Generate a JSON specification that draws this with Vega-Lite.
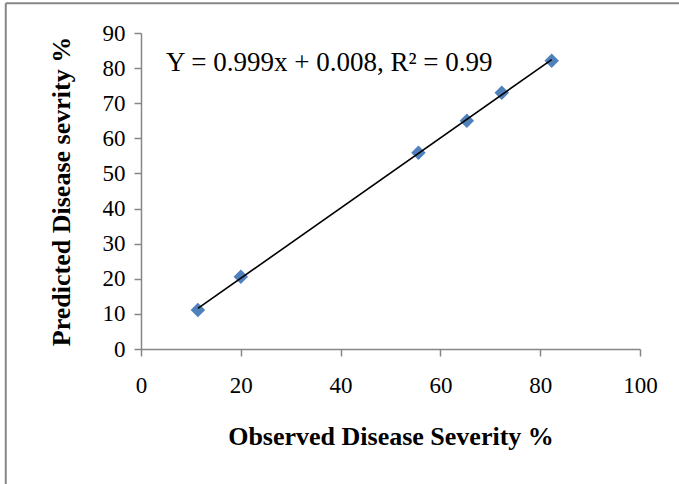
{
  "$schema": "https://vega.github.io/schema/vega-lite/v6.json",
  "width": 499,
  "height": 316,
  "autosize": {"type": "none"},
  "padding": {"left": 141, "top": 33, "right": 39, "bottom": 135},
  "background": "white",
  "config": {
    "view": {"stroke": null},
    "font": "Liberation Serif",
    "axis": {
      "grid": false,
      "domainColor": "#868686",
      "domainWidth": 1.5,
      "tickColor": "#868686",
      "tickWidth": 1.5,
      "tickSize": 7,
      "labelFont": "Liberation Serif",
      "labelFontSize": 23,
      "labelColor": "black",
      "labelFlush": false,
      "titleFont": "Liberation Serif",
      "titleFontSize": 26,
      "titleFontWeight": "bold",
      "titleColor": "black"
    }
  },
  "layer": [
    {
      "data": {
        "values": [
          {"observed": 11.4, "predicted": 11.1},
          {"observed": 20.0, "predicted": 20.6},
          {"observed": 55.6, "predicted": 55.9},
          {"observed": 65.3, "predicted": 65.0},
          {"observed": 72.3, "predicted": 73.0},
          {"observed": 82.3, "predicted": 82.1}
        ]
      },
      "layer": [
        {
          "mark": {"type": "point", "shape": "diamond", "filled": true, "color": "#4F81BD", "opacity": 1, "size": 210},
          "encoding": {
            "x": {
              "field": "observed",
              "type": "quantitative",
              "scale": {"domain": [0, 100], "nice": false, "zero": true},
              "axis": {"values": [0, 20, 40, 60, 80, 100], "tickCount": 6, "labelPadding": 18, "titlePadding": 26, "title": "Observed Disease Severity %"}
            },
            "y": {
              "field": "predicted",
              "type": "quantitative",
              "scale": {"domain": [0, 90], "nice": false},
              "axis": {"values": [0, 10, 20, 30, 40, 50, 60, 70, 80, 90], "tickCount": 10, "labelOverlap": false, "labelPadding": 9, "titlePadding": 28, "title": "Predicted Disease sevrity %"}
            }
          }
        },
        {
          "transform": [{"regression": "predicted", "on": "observed", "method": "linear"}],
          "mark": {"type": "line", "color": "black", "strokeWidth": 1.6},
          "encoding": {
            "x": {"field": "observed", "type": "quantitative"},
            "y": {"field": "predicted", "type": "quantitative"}
          }
        }
      ]
    },
    {
      "data": {"values": [{"label": "Y = 0.999x + 0.008, R² = 0.99"}]},
      "layer": [
        {
          "mark": {"type": "rule", "color": "#868686", "strokeWidth": 2, "clip": false},
          "encoding": {
            "x": {"datum": -27.1, "type": "quantitative"},
            "y": {"datum": 98.5, "type": "quantitative"},
            "y2": {"datum": -60}
          }
        },
        {
          "mark": {"type": "rule", "color": "#868686", "strokeWidth": 2, "clip": false},
          "encoding": {
            "y": {"datum": 98.5, "type": "quantitative"},
            "x": {"datum": -27.1, "type": "quantitative"},
            "x2": {"datum": 120}
          }
        },
        {
          "mark": {"type": "text", "align": "left", "baseline": "middle", "fontSize": 27, "fontWeight": "normal", "font": "Liberation Serif", "color": "black"},
          "encoding": {
            "x": {"datum": 5.0, "type": "quantitative"},
            "y": {"datum": 81.4, "type": "quantitative"},
            "text": {"field": "label"}
          }
        }
      ]
    }
  ]
}
